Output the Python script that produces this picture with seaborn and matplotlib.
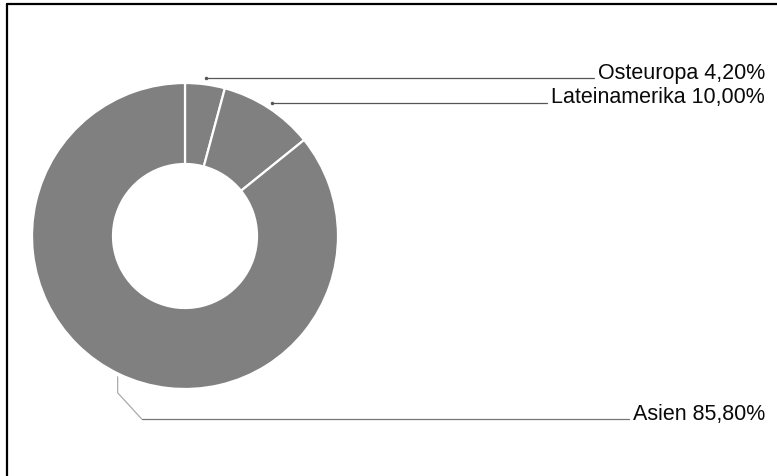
import numpy as np
import matplotlib
matplotlib.use("Agg")
import matplotlib.pyplot as plt
from matplotlib.lines import Line2D
import seaborn as sns

# data
regions = ["Osteuropa", "Lateinamerika", "Asien"]
shares = [4.2, 10.0, 85.8]

sns.set_theme(style="white")
plt.rcParams["font.family"] = ["Liberation Sans", "DejaVu Sans"]

W, H = 777, 477
fig = plt.figure(figsize=(W / 100, H / 100), dpi=100)
fig.patch.set_edgecolor("none")
fig.patch.set_linewidth(0)
ax = fig.add_axes([0, 0, 1, 1])

cx, cy, R = 185, 240, 153
slice_color = sns.color_palette(["#808080"])[0]
ax.pie(shares, startangle=90, counterclock=False, center=(cx, cy), radius=R,
       colors=[slice_color] * len(shares),
       wedgeprops=dict(width=81, edgecolor="white", linewidth=1.6))
ax.set_xlim(0, W)
ax.set_ylim(0, H)
ax.axis("off")
ax.patch.set_visible(False)

# label baselines (pixel rows from top of image) and text right edge
label_rows = [78.5, 103.5, 420]
text_right = 765

cum = np.cumsum([0] + shares[:-1])
texts = []
for name, v, c0, row in zip(regions, shares, cum, label_rows):
    lab = f"{name} {v:.2f}".replace(".", ",") + "%"
    t = ax.text(text_right, H - row, lab, ha="right", va="baseline",
                fontsize=15.5, color="#0a0a0a")
    texts.append(t)

fig.canvas.draw()
inv = ax.transData.inverted()
for name, v, c0, row, t in zip(regions, shares, cum, label_rows, texts):
    ang = np.deg2rad(90 - (c0 + v / 2) * 3.6)
    bb = t.get_window_extent()
    x_end = inv.transform((bb.x0 - 4, 0))[0]
    y_line = H - row
    if np.sin(ang) > 0:
        r = R * 1.04
        x0 = cx + r * np.cos(ang)
        ax.plot([x0, x_end], [y_line, y_line], color="#555555", lw=0.9)
        ax.plot([x0], [y_line], marker="o", ms=1.5, color="#555555")
    else:
        r = R * 1.02
        x0 = cx + r * np.cos(ang)
        y0 = cy + r * np.sin(ang)
        xs = [x0, x0, x0 + 24, x_end]
        ys = [y0, y0 - 16, y_line, y_line]
        ax.plot(xs[:3], ys[:3], color="#aaaaaa", lw=0.9)
        ax.plot(xs[2:], ys[2:], color="#777777", lw=0.9)

# frame lines at top and left edge
fig.add_artist(Line2D([6.5 / W, 1], [1 - 4.5 / H, 1 - 4.5 / H],
                      transform=fig.transFigure, color="black", lw=1.6))
fig.add_artist(Line2D([6.5 / W, 6.5 / W], [0, 1 - 4.5 / H],
                      transform=fig.transFigure, color="black", lw=1.6))

fig.savefig("out.png", dpi=100)
